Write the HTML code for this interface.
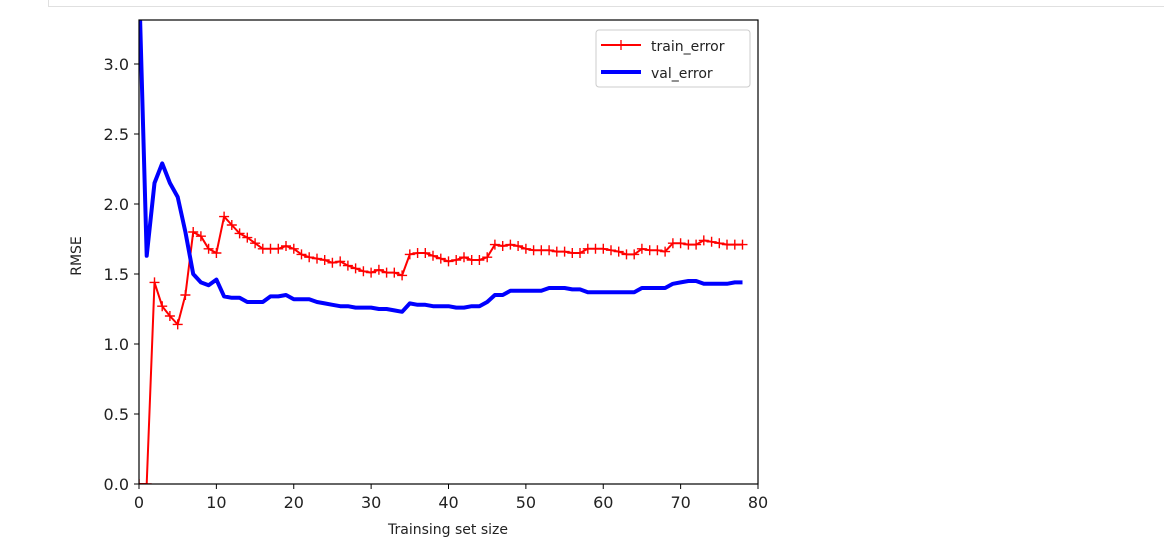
<!DOCTYPE html>
<html><head><meta charset="utf-8"><style>
html,body{margin:0;padding:0;background:#fff;}
body{width:1164px;height:551px;overflow:hidden;position:relative;font-family:"DejaVu Sans","Liberation Sans",sans-serif;}
.top{position:absolute;left:48px;top:0;width:1116px;height:6px;border-bottom:1px solid #e0e0e0;border-left:1px solid #e0e0e0;}
</style></head><body>
<div class="top"></div>
<svg id="s" width="1164" height="551" style="position:absolute;left:0;top:0" font-family="DejaVu Sans, Liberation Sans, sans-serif">
<defs><clipPath id="c"><rect x="139" y="20" width="619" height="464"/></clipPath></defs>
<g id="plot" clip-path="url(#c)"></g>
<rect x="139" y="20" width="619" height="464" fill="none" stroke="#000" stroke-width="1.2"/>
<g id="ticks" font-size="16" fill="#222"></g>
<text x="448" y="534" font-size="14" text-anchor="middle" fill="#222">Trainsing set size</text>
<text transform="translate(81,256) rotate(-90)" font-size="14" text-anchor="middle" fill="#222">RMSE</text>
<rect x="596" y="30" width="154" height="57" rx="3" fill="#fff" stroke="#ccc"/>
<line x1="601" y1="45" x2="641" y2="45" stroke="red" stroke-width="2"/>
<path d="M621 40V50M616 45H626" stroke="red" stroke-width="1.3"/>
<text x="651" y="51" font-size="14" fill="#222">train_error</text>
<line x1="601" y1="72" x2="641" y2="72" stroke="blue" stroke-width="4"/>
<text x="651" y="78" font-size="14" fill="#222">val_error</text>
</svg>
<script>
var tr=[0,0,1.44,1.27,1.2,1.14,1.35,1.8,1.77,1.68,1.65,1.91,1.85,1.79,1.76,1.72,1.68,1.68,1.68,1.7,1.68,1.64,1.62,1.61,1.6,1.58,1.59,1.56,1.54,1.52,1.51,1.53,1.51,1.51,1.49,1.64,1.65,1.65,1.63,1.61,1.59,1.6,1.62,1.6,1.6,1.62,1.71,1.7,1.71,1.7,1.68,1.67,1.67,1.67,1.66,1.66,1.65,1.65,1.68,1.68,1.68,1.67,1.66,1.64,1.64,1.68,1.67,1.67,1.66,1.72,1.72,1.71,1.71,1.74,1.73,1.72,1.71,1.71,1.71];
var va=[3.6,1.63,2.15,2.29,2.15,2.05,1.8,1.5,1.44,1.42,1.46,1.34,1.33,1.33,1.3,1.3,1.3,1.34,1.34,1.35,1.32,1.32,1.32,1.3,1.29,1.28,1.27,1.27,1.26,1.26,1.26,1.25,1.25,1.24,1.23,1.29,1.28,1.28,1.27,1.27,1.27,1.26,1.26,1.27,1.27,1.3,1.35,1.35,1.38,1.38,1.38,1.38,1.38,1.4,1.4,1.4,1.39,1.39,1.37,1.37,1.37,1.37,1.37,1.37,1.37,1.4,1.4,1.4,1.4,1.43,1.44,1.45,1.45,1.43,1.43,1.43,1.43,1.44,1.44];
function X(i){return 139+i*7.7375}function Y(v){return 484-v*140}
var ns="http://www.w3.org/2000/svg",p=document.getElementById('plot');
function mk(t,a,par){var e=document.createElementNS(ns,t);for(var k in a)e.setAttribute(k,a[k]);(par||p).appendChild(e);return e;}
var d='',m='';tr.forEach(function(v,i){var x=X(i),y=Y(v);d+=(i?'L':'M')+x.toFixed(1)+' '+y.toFixed(1);m+='M'+x.toFixed(1)+' '+(y-5).toFixed(1)+'v10M'+(x-5).toFixed(1)+' '+y.toFixed(1)+'h10';});
var dv='';va.forEach(function(v,i){dv+=(i?'L':'M')+X(i).toFixed(1)+' '+Y(v).toFixed(1);});
mk('path',{d:d,fill:'none',stroke:'red','stroke-width':2,'stroke-linejoin':'round'});
mk('path',{d:m,fill:'none',stroke:'red','stroke-width':1.4});
mk('path',{d:dv,fill:'none',stroke:'blue','stroke-width':4,'stroke-linejoin':'round'});
var t=document.getElementById('ticks');
for(var i=0;i<=6;i++){var v=i*0.5,y=Y(v);mk('line',{x1:134,x2:139,y1:y,y2:y,stroke:'#000'},t);var e=mk('text',{x:129,y:y+6,'text-anchor':'end'},t);e.textContent=v.toFixed(1);}
for(var i=0;i<=8;i++){var x=X(i*10);mk('line',{x1:x,x2:x,y1:484,y2:489,stroke:'#000'},t);var e=mk('text',{x:x,y:508,'text-anchor':'middle'},t);e.textContent=i*10;}
</script>
</body></html>
